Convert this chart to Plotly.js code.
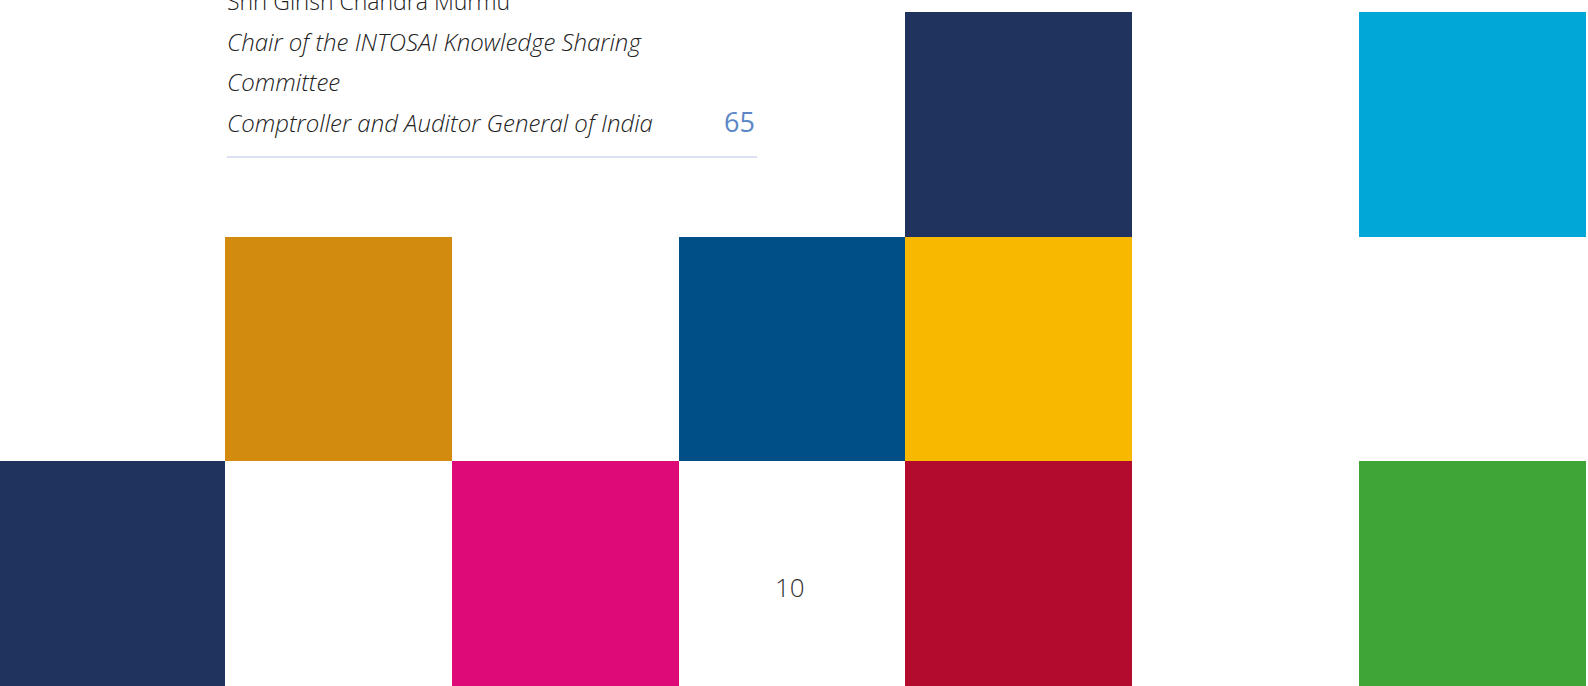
<!DOCTYPE html>
<html>
<head>
<meta charset="utf-8">
<script src="https://cdn.plot.ly/plotly-3.0.1.min.js"></script>
<style>
html,body{margin:0;padding:0;background:#fff;}
#chart{width:1588px;height:686px;}
</style>
</head>
<body>
<div id="chart"></div>
<script>
// Grid tiles: column index, row index (0 = top), colour
var tileCols   = [4, 6, 1, 3, 4, 0, 2, 4, 6];
var tileRows   = [0, 0, 1, 1, 1, 2, 2, 2, 2];
var tileColors = ['#20335F', '#00A7D7', '#D28B0E', '#004F86', '#F9B800',
                  '#20335F', '#DD0A78', '#B30B2E', '#3EA536'];
var tileHeights = [1, 1, 1, 1, 1, 1, 1, 1, 1];

// Text block
var textLines = [
  'Shri Girish Chandra Murmu',
  'Chair of the INTOSAI Knowledge Sharing',
  'Committee',
  'Comptroller and Auditor General of India'
];
var lineItalic = [false, true, true, true];
var lineSize = [23, 24, 24, 24];
var entryPage = '65';
var pageNumber = '10';

var W = 1588, H = 686, ML = 0, MR = 2, MT = 12, MB = 0;
var PW = W - ML - MR, PH = H - MT - MB;
function px(x) { return (x - ML) / PW; }
function py(y) { return (H - MB - y) / PH; }

var trace = {
  type: 'bar',
  x: tileCols,
  y: tileHeights,
  base: tileRows,
  width: 1,
  marker: { color: tileColors, line: { width: 0 } },
  hoverinfo: 'skip',
  showlegend: false
};

var lineMid = [1, 41.2, 81.7, 122.2];
var annotations = textLines.map(function (t, i) {
  return {
    xref: 'paper', yref: 'paper',
    x: px(225), y: py(lineMid[i]),
    xanchor: 'left', yanchor: 'middle',
    text: t, showarrow: false,
    font: { family: 'Open Sans', size: lineSize[i], color: '#222222', weight: 300,
            style: lineItalic[i] ? 'italic' : 'normal' }
  };
});
annotations.push({
  xref: 'paper', yref: 'paper',
  x: px(757), y: py(121.5),
  xanchor: 'right', yanchor: 'middle',
  text: entryPage, showarrow: false,
  font: { family: 'Open Sans', size: 27, color: '#5B87C7', weight: 500 }
});
annotations.push({
  xref: 'paper', yref: 'paper',
  x: px(790), y: py(587),
  xanchor: 'center', yanchor: 'middle',
  text: pageNumber, showarrow: false,
  font: { family: 'Open Sans', size: 26, color: '#333333', weight: 300 }
});

var layout = {
  width: W, height: H,
  margin: { l: ML, r: MR, t: MT, b: MB, pad: 0 },
  paper_bgcolor: '#ffffff', plot_bgcolor: '#ffffff',
  bargap: 0,
  xaxis: { range: [-0.492, 6.501], visible: false, fixedrange: true },
  yaxis: { range: [3, 0], visible: false, fixedrange: true },
  showlegend: false,
  annotations: annotations,
  shapes: [{
    type: 'line', xref: 'paper', yref: 'paper',
    x0: px(227), x1: px(757), y0: py(157), y1: py(157),
    line: { color: '#B3C3E6', width: 1.2 }
  }]
};

Plotly.newPlot('chart', [trace], layout, { staticPlot: true, displayModeBar: false });
</script>
</body>
</html>
